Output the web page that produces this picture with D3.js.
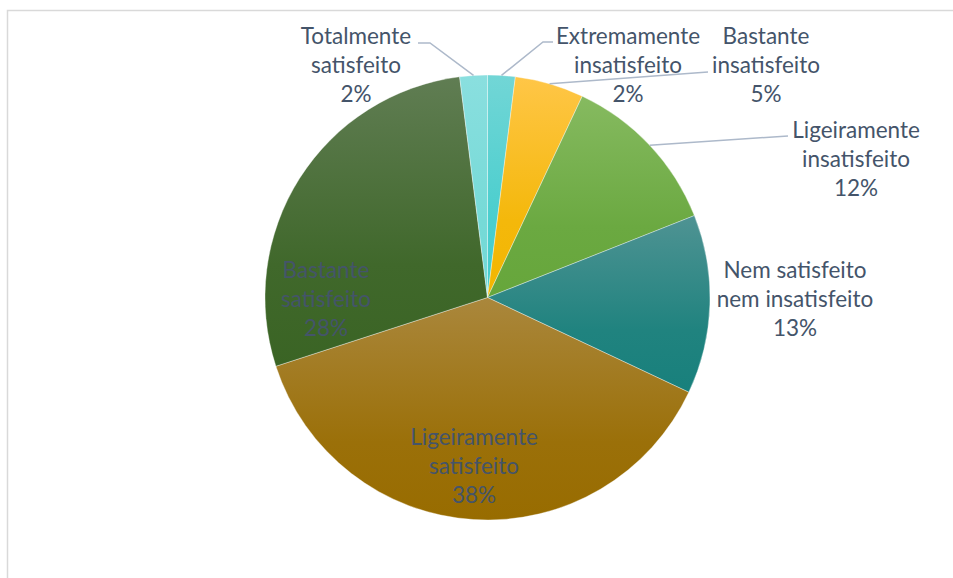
<!DOCTYPE html>
<html>
<head>
<meta charset="utf-8">
<script src="https://cdn.jsdelivr.net/npm/d3@7"></script>
<style>
  html, body { margin: 0; padding: 0; background: #fff; }
  svg { display: block; }
</style>
</head>
<body>
<svg id="chart" width="953" height="578"></svg>
<script>
// Satisfaction categories, clockwise from 12 o'clock
const categories = [
  "Extremamente insatisfeito",
  "Bastante insatisfeito",
  "Ligeiramente insatisfeito",
  "Nem satisfeito nem insatisfeito",
  "Ligeiramente satisfeito",
  "Bastante satisfeito",
  "Totalmente satisfeito"
];
const percentages = [2, 5, 12, 13, 38, 28, 2];
// Line breaks used for each category's label
const labelLines = [
  ["Extremamente", "insatisfeito"],
  ["Bastante", "insatisfeito"],
  ["Ligeiramente", "insatisfeito"],
  ["Nem satisfeito", "nem insatisfeito"],
  ["Ligeiramente", "satisfeito"],
  ["Bastante", "satisfeito"],
  ["Totalmente", "satisfeito"]
];

// Slice fills: light tint at the top fading to the base colour
const fills = [
  ["#72D6D6", "#43CCCC"],
  ["#FFC647", "#F2B600"],
  ["#86BA60", "#66A63B"],
  ["#4F9393", "#18807C"],
  ["#AA873C", "#986C00"],
  ["#607D53", "#3A6424"],
  ["#8ADFDF", "#72D9D6"]
];

// Label layout: centre of the first text line and leader line elbows
const labelLayout = {
  "Extremamente insatisfeito":   { x: 628, y: 36, leader: [[543, 42], [553, 42]] },
  "Bastante insatisfeito":       { x: 766, y: 36, leader: [[708, 72]] },
  "Ligeiramente insatisfeito":   { x: 856, y: 130, leader: [[788, 136]] },
  "Nem satisfeito nem insatisfeito": { x: 795, y: 270, leader: null },
  "Ligeiramente satisfeito":     { x: 474, y: 437, leader: null },
  "Bastante satisfeito":         { x: 326, y: 270, leader: null },
  "Totalmente satisfeito":       { x: 356, y: 36, leader: [[430, 43], [418, 43]] }
};

const svg = d3.select("#chart");
const cx = 487.5, cy = 297.5, radius = 222.5;
const lineH = 28.8;
const textColor = "#44546A";

// Chart area frame
svg.append("rect")
  .attr("x", 7.5).attr("y", 10.5)
  .attr("width", 1000).attr("height", 1000)
  .attr("fill", "none")
  .attr("stroke", "#D9D9D9")
  .attr("stroke-width", 1.5);

const data = categories.map((c, i) => ({ name: c, value: percentages[i], idx: i }));

const pie = d3.pie().sort(null).value(d => d.value);
const arcs = pie(data);
const arc = d3.arc().innerRadius(0).outerRadius(radius);

const defs = svg.append("defs");
fills.forEach((f, i) => {
  const g = defs.append("linearGradient")
    .attr("id", "grad" + i)
    .attr("x1", 0).attr("y1", 0).attr("x2", 0).attr("y2", 1);
  g.append("stop").attr("offset", "0%").attr("stop-color", f[0]);
  g.append("stop").attr("offset", "65%").attr("stop-color", d3.interpolateRgb(f[0], f[1])(0.85));
  g.append("stop").attr("offset", "100%").attr("stop-color", f[1]);
});

const g = svg.append("g").attr("transform", `translate(${cx},${cy})`);

g.selectAll("path.slice")
  .data(arcs)
  .join("path")
  .attr("class", "slice")
  .attr("d", arc)
  .attr("fill", d => `url(#grad${d.data.idx})`)
  .attr("stroke", "#ffffff")
  .attr("stroke-opacity", 0.45)
  .attr("stroke-width", 0.8);

// Leader lines from the outer edge of each slice to its label
arcs.forEach(d => {
  const lay = labelLayout[d.data.name];
  if (!lay.leader) return;
  const mid = (d.startAngle + d.endAngle) / 2;
  const start = [cx + radius * Math.sin(mid), cy - radius * Math.cos(mid)];
  const pts = [start].concat(lay.leader);
  svg.append("path")
    .attr("d", d3.line()(pts))
    .attr("fill", "none")
    .attr("stroke", "#ADB9CA")
    .attr("stroke-width", 1.5);
});

// Data labels: category name and percentage
arcs.forEach(d => {
  const lay = labelLayout[d.data.name];
  const lines = labelLines[d.data.idx].concat([d.data.value + "%"]);
  const t = svg.append("text")
    .attr("text-anchor", "middle")
    .attr("font-family", "Lato, 'Open Sans', sans-serif")
    .attr("font-size", 22.5)
    .attr("fill", textColor);
  lines.forEach((ln, k) => {
    t.append("tspan")
      .attr("x", lay.x)
      .attr("y", lay.y + k * lineH)
      .attr("dy", "0.36em")
      .text(ln);
  });
});
</script>
</body>
</html>
